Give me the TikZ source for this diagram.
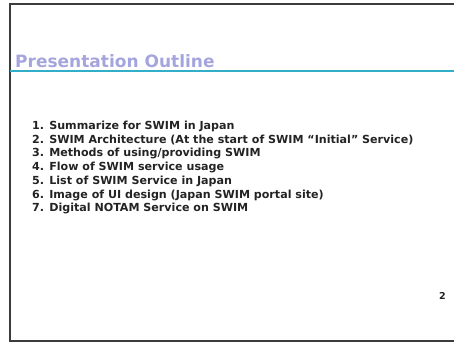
\documentclass[tikz,border=0pt]{standalone}
\usepackage{fontspec}
\setmainfont{DejaVu Sans}
\usetikzlibrary{positioning}
\definecolor{framegray}{RGB}{60,60,60}
\definecolor{ruleteal}{RGB}{50,175,200}
\definecolor{titlelav}{RGB}{165,165,222}
\definecolor{itemdark}{RGB}{35,35,35}

\begin{document}
\begin{tikzpicture}[x=1pt,y=-1pt,
	title/.style = {anchor=base west, inner sep=0pt, text=titlelav, font=\bfseries\fontsize{17}{20}\selectfont},
	item/.style = {anchor=base west, inner sep=0pt, text=itemdark, font=\bfseries\fontsize{11.1}{13}\selectfont}]
	\useasboundingbox (0,0) rectangle (454,343);
	% slide frame and title rule
	\draw [line width=1.8pt,framegray] (454,4) -- (10,4) -- (10,341) -- (454,341);
	\draw [line width=2pt,ruleteal] (10,71) -- (454,71);
	\node[title] (T) at (15,67) {Presentation Outline};
	\begin{scope}[every node/.style={item}]
		\node (I1) at (32,129.5) {1. Summarize for SWIM in Japan};
		\node (I2) at (32,143.2) {2. SWIM Architecture (At the start of SWIM “Initial” Service)};
		\node (I3) at (32,156.9) {3. Methods of using/providing SWIM};
		\node (I4) at (32,170.6) {4. Flow of SWIM service usage};
		\node (I5) at (32,184.3) {5. List of SWIM Service in Japan};
		\node (I6) at (32,198) {6. Image of UI design (Japan SWIM portal site)};
		\node (I7) at (32,211.7) {7. Digital NOTAM Service on SWIM};
	\end{scope}
	\node[anchor=base west, inner sep=0pt, text=itemdark, font=\bfseries\fontsize{9.5}{11}\selectfont] (P) at (439,299) {2};
\end{tikzpicture}
\end{document}
